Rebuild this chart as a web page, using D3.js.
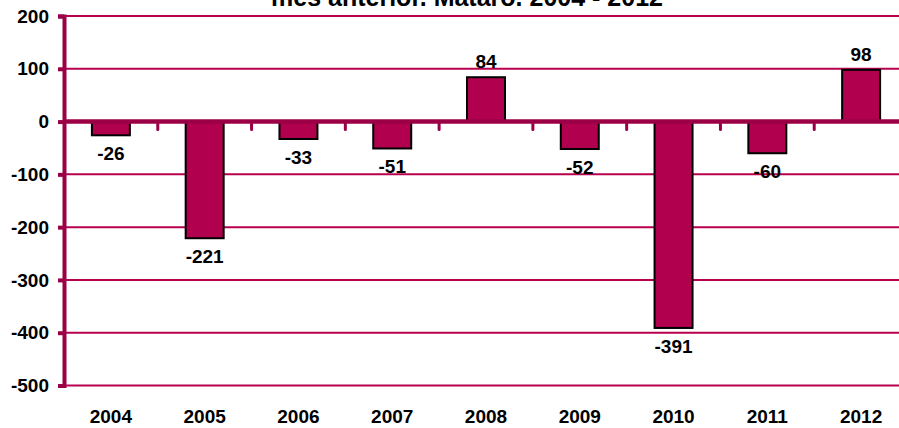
<!DOCTYPE html>
<html>
<head>
<meta charset="utf-8">
<script src="https://cdn.jsdelivr.net/npm/d3@7"></script>
<style>
body { margin: 0; background: #fff; }
text { font-family: Arial, "Liberation Sans", sans-serif; font-weight: bold; }
</style>
</head>
<body>
<div id="chart"></div>
<script>
var years = ["2004", "2005", "2006", "2007", "2008", "2009", "2010", "2011", "2012"];
var values = [-26, -221, -33, -51, 84, -52, -391, -60, 98];
var yTicks = [200, 100, 0, -100, -200, -300, -400, -500];
var titleText = "mes anterior. Mataró. 2004 - 2012";

var width = 899, height = 428;
var plotLeft = 64, plotRight = 908, plotTop = 16, plotBottom = 385.5;

var svg = d3.select("#chart")
  .append("svg")
  .attr("width", width)
  .attr("height", height);

var x = d3.scaleBand()
  .domain(years)
  .range([plotLeft, plotRight])
  .paddingInner(0.595)
  .paddingOuter(0.2975);

var y = d3.scaleLinear()
  .domain([-500, 200])
  .range([plotBottom, plotTop]);

// plain hyphen for negatives, like the original
var fmt = function(d) { return String(d); };

// title (first line is off the top of the picture)
svg.append("text")
  .attr("x", 467)
  .attr("y", 6)
  .attr("text-anchor", "middle")
  .style("font-size", "25px")
  .text(titleText);

// gridlines
svg.selectAll(".grid")
  .data(yTicks.filter(function(d) { return d !== 0; }))
  .enter()
  .append("line")
  .attr("class", "grid")
  .attr("x1", plotLeft)
  .attr("x2", width)
  .attr("y1", function(d) { return y(d); })
  .attr("y2", function(d) { return y(d); })
  .style("stroke", "#b8004f")
  .style("stroke-width", 2);

// y axis
var yAxis = d3.axisLeft(y)
  .tickValues(yTicks)
  .tickSize(6)
  .tickPadding(9)
  .tickFormat(fmt);

var gy = svg.append("g")
  .attr("transform", "translate(" + plotLeft + ",0)")
  .call(yAxis);
gy.select(".domain").style("stroke", "#9b0046").style("stroke-width", 4);
gy.selectAll(".tick line").style("stroke", "#9b0046").style("stroke-width", 4);
gy.selectAll(".tick text")
  .style("font-size", "19px")
  .style("fill", "#000");

// bars
svg.selectAll(".bar")
  .data(values)
  .enter()
  .append("rect")
  .attr("class", "bar")
  .attr("x", function(d, i) { return x(years[i]); })
  .attr("width", x.bandwidth())
  .attr("y", function(d) { return d > 0 ? y(d) : y(0); })
  .attr("height", function(d) { return Math.abs(y(d) - y(0)); })
  .style("fill", "#b0004e")
  .style("stroke", "#000")
  .style("stroke-width", 2);

// zero line
svg.append("line")
  .attr("x1", plotLeft)
  .attr("x2", width)
  .attr("y1", y(0))
  .attr("y2", y(0))
  .style("stroke", "#9b0046")
  .style("stroke-width", 4.5);

// small tick marks between categories below the zero line
var step = x.step();
svg.selectAll(".xtick")
  .data(years.slice(1))
  .enter()
  .append("line")
  .attr("class", "xtick")
  .attr("x1", function(d, i) { return plotLeft + step * (i + 1); })
  .attr("x2", function(d, i) { return plotLeft + step * (i + 1); })
  .attr("y1", y(0))
  .attr("y2", y(0) + 8)
  .style("stroke", "#9b0046")
  .style("stroke-width", 3)
  .style("stroke-linecap", "round");

// value labels
svg.selectAll(".val")
  .data(values)
  .enter()
  .append("text")
  .attr("class", "val")
  .attr("x", function(d, i) { return x(years[i]) + x.bandwidth() / 2; })
  .attr("y", function(d) { return d > 0 ? y(d) - 9 : y(d) + 25; })
  .attr("text-anchor", "middle")
  .style("font-size", "19px")
  .text(fmt);

// x labels
svg.selectAll(".xlab")
  .data(years)
  .enter()
  .append("text")
  .attr("class", "xlab")
  .attr("x", function(d) { return x(d) + x.bandwidth() / 2; })
  .attr("y", 423)
  .attr("text-anchor", "middle")
  .style("font-size", "19px")
  .text(function(d) { return d; });
</script>
</body>
</html>
